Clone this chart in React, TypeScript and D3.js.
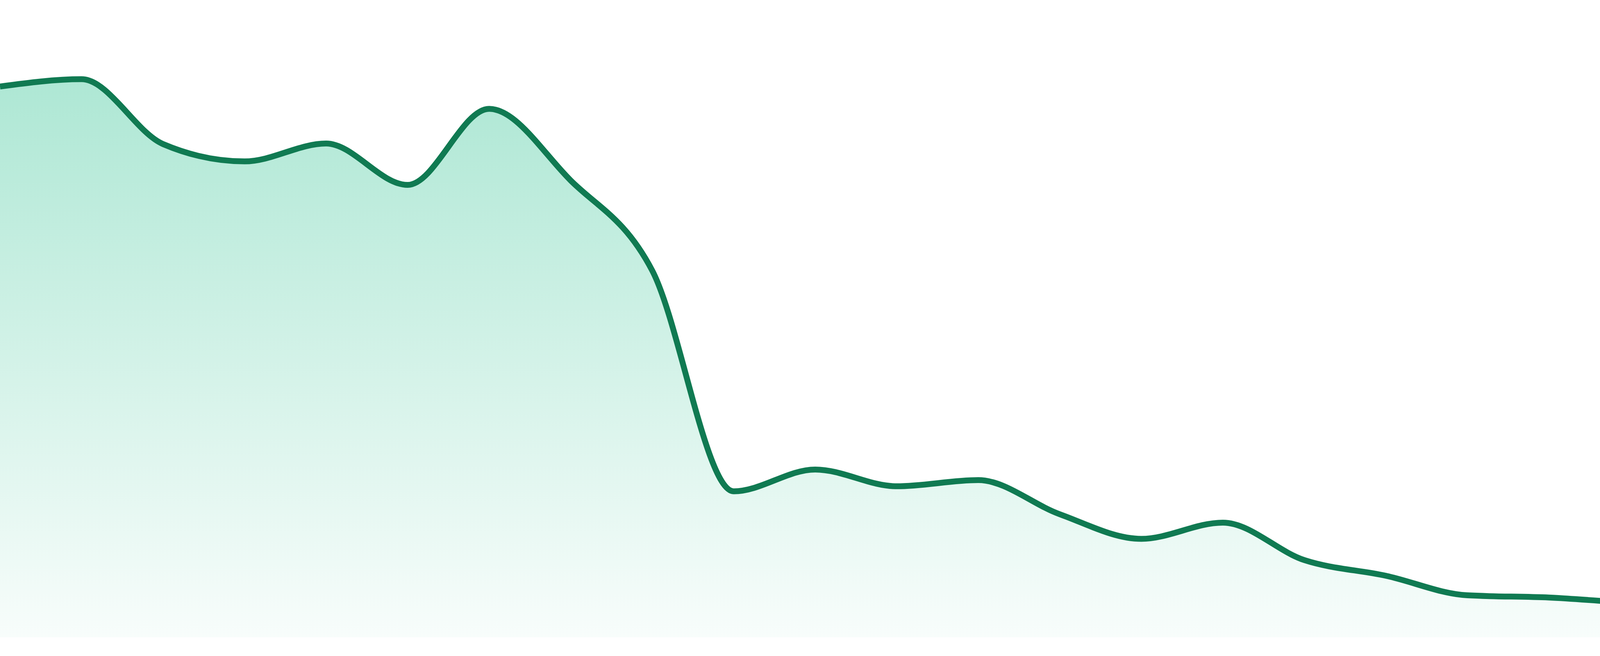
import * as d3 from 'd3';
import React, { useEffect } from 'react';

// one value per step
const values = [
    98.5, 99.8, 88.2, 85.1, 88.3, 80.9, 94.5, 81.7, 65.6, 26.1, 30.0, 27.0,
    28.1, 22.0, 17.6, 20.5, 13.8, 11.0, 7.5, 7.1, 6.2, 5.9, 8.4, 8.6,
];

const width = 4800;
const height = 1680;
const margin = { top: 200, bottom: 48 };

const App: React.FC = () => {
    useEffect(() => {
        document.body.style.margin = '0';
    }, []);

    const x = d3.scaleLinear().domain([0, values.length - 1]).range([0, width]);
    const y = d3.scaleLinear().domain([0, 100]).range([height - margin.bottom, margin.top]);

    const area = d3.area<number>()
        .curve(d3.curveMonotoneX)
        .x((_, i) => x(i))
        .y0(y(0))
        .y1(d => y(d));

    const line = d3.line<number>()
        .curve(d3.curveMonotoneX)
        .x((_, i) => x(i))
        .y(d => y(d));

    return (
        <svg width={width} height={height} style={{ display: 'block' }}>
            <defs>
                <linearGradient id="fillGrad" x1="0" y1="0" x2="0" y2="1">
                    <stop offset="0%" stopColor="#10b981" stopOpacity={0.34} />
                    <stop offset="100%" stopColor="#10b981" stopOpacity={0.03} />
                </linearGradient>
            </defs>
            <path d={area(values) ?? ''} fill="url(#fillGrad)" />
            <path d={line(values) ?? ''} fill="none" stroke="#107a52" strokeWidth={15} />
        </svg>
    );
};

export default App;
